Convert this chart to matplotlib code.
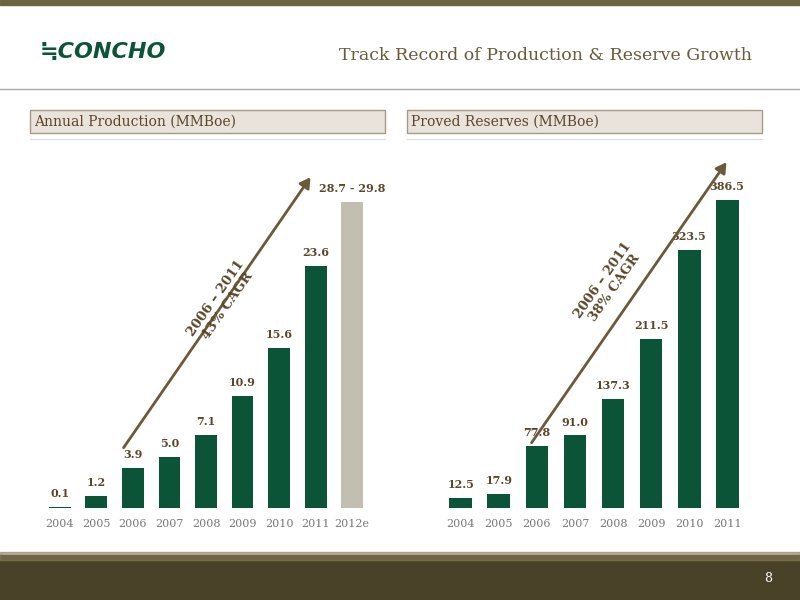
import matplotlib
matplotlib.use("Agg")
import matplotlib.pyplot as plt
from matplotlib.patches import Rectangle

prod_years = ["2004", "2005", "2006", "2007", "2008", "2009", "2010", "2011", "2012e"]
prod_vals = [0.1, 1.2, 3.9, 5.0, 7.1, 10.9, 15.6, 23.6, 29.8]
prod_labels = ["0.1", "1.2", "3.9", "5.0", "7.1", "10.9", "15.6", "23.6", "28.7 - 29.8"]
res_years = ["2004", "2005", "2006", "2007", "2008", "2009", "2010", "2011"]
res_vals = [12.5, 17.9, 77.8, 91.0, 137.3, 211.5, 323.5, 386.5]
res_labels = ["12.5", "17.9", "77.8", "91.0", "137.3", "211.5", "323.5", "386.5"]

GREEN = "#0b5438"
GREY = "#c2bfb2"
BROWN = "#5a4628"
SERIF = ["DejaVu Serif"]

fig = plt.figure(figsize=(8, 6), dpi=100)
W, H = 800, 600
def fx(x): return x / W
def fy(y): return 1 - y / H

fig.patches.append(Rectangle((0, fy(5)), 1, 5 / H, transform=fig.transFigure, color="#6b6440"))
fig.patches.append(Rectangle((0, 0), 1, 45 / H, transform=fig.transFigure, color="#4a4228"))
fig.patches.append(Rectangle((0, fy(560)), 1, 8 / H, transform=fig.transFigure, color="#8a7f58", alpha=0.6))
fig.text(fx(768), fy(578), "8", color="white", fontsize=9, ha="center", va="center", family=SERIF)
fig.lines.append(plt.Line2D([0, 1], [fy(89), fy(89)], transform=fig.transFigure, color="#aaaaaa", lw=1))
fig.text(fx(40), fy(52), "\u2252CONCHO", color=GREEN, fontsize=16, fontweight="bold", style="italic",
         ha="left", va="center", family=["DejaVu Sans"])
fig.text(fx(752), fy(55), "Track Record of Production & Reserve Growth", color="#6b5a3a",
         fontsize=12.5, ha="right", va="center", family=SERIF)
for x0, x1, t in [(30, 385, "Annual Production (MMBoe)"), (407, 762, "Proved Reserves (MMBoe)")]:
    fig.patches.append(Rectangle((fx(x0), fy(133)), (x1 - x0) / W, 23 / H, transform=fig.transFigure,
                                 facecolor="#e9e3dc", edgecolor="#a89a88", lw=1))
    fig.text(fx(x0 + 4), fy(122), t, color=BROWN, fontsize=10, ha="left", va="center", family=SERIF)
    fig.lines.append(plt.Line2D([fx(x0), fx(x1)], [fy(139), fy(139)], transform=fig.transFigure, color="#dddddd", lw=0.8))

def panel(rect, years, vals, labels, ymax, colors):
    ax = fig.add_axes(rect)
    xs = range(len(years))
    ax.bar(xs, vals, width=0.6, color=colors)
    for x, v, l in zip(xs, vals, labels):
        ax.text(x, v + ymax * 0.022, l, ha="center", va="bottom", fontsize=8, color=BROWN,
                fontweight="semibold", family=SERIF)
    ax.set_ylim(0, ymax)
    ax.set_xlim(-0.6, len(years) - 0.4)
    ax.set_xticks(list(xs))
    ax.set_xticklabels(years, fontsize=8, color="#777777", family=SERIF)
    ax.tick_params(axis="x", length=0, pad=8)
    ax.set_yticks([])
    for s in ax.spines.values():
        s.set_visible(False)
    ax.patch.set_alpha(0)
    return ax

panel([fx(38), fy(508), 336 / W, 358 / H], prod_years, prod_vals, prod_labels, 34.9,
      [GREEN] * 8 + [GREY])
panel([fx(438), fy(508), 312 / W, 358 / H], res_years, res_vals, res_labels, 449,
      [GREEN] * 8)

for (x0, y0, x1, y1, tx, ty, t) in [(122, 450, 312, 175, 222, 302, "2006 \u2013 2011\n43% CAGR"),
                                    (530, 445, 728, 160, 609, 284, "2006 \u2013 2011\n38% CAGR")]:
    fig.add_artist(matplotlib.patches.FancyArrowPatch((fx(x0), fy(y0)), (fx(x1), fy(y1)),
                   transform=fig.transFigure, arrowstyle="-|>,head_length=6,head_width=3.5",
                   color="#6b5a3a", lw=2))
    fig.text(fx(tx), fy(ty), t, rotation=55, color=BROWN, fontsize=9.5, fontweight="semibold",
             ha="center", va="center", family=SERIF, multialignment="center", linespacing=1.1)

fig.savefig("out.png", dpi=100)
